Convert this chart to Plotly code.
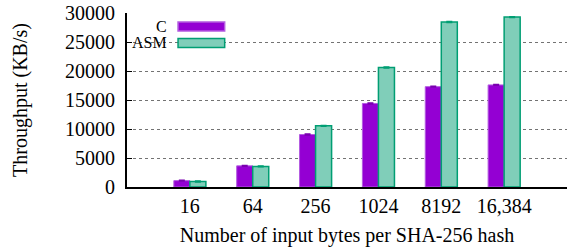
import plotly.graph_objects as go

categories = ["16", "64", "256", "1024", "8192", "16,384"]
c_values = [1100, 3650, 9050, 14400, 17300, 17600]
asm_values = [950, 3550, 10550, 20600, 28450, 29300]
y_ticks = [0, 5000, 10000, 15000, 20000, 25000, 30000]

FONT = "Liberation Serif, Times New Roman, serif"
C_FILL = "#9400D3"
C_LINE = "#B35BE0"
ASM_FILL = "#80CEB9"
ASM_LINE = "#009E73"
FS = 20

fig = go.Figure()
fig.add_trace(go.Bar(
    x=categories, y=c_values, name="C",
    marker=dict(color=C_FILL, line=dict(color=C_LINE, width=1)),
    error_y=dict(type="constant", value=70, color="#7a00b0", thickness=1.5, width=3),
    showlegend=False,
))
fig.add_trace(go.Bar(
    x=categories, y=asm_values, name="ASM",
    marker=dict(color=ASM_FILL, line=dict(color=ASM_LINE, width=1.5)),
    error_y=dict(type="constant", value=70, color=ASM_LINE, thickness=1.5, width=3),
    showlegend=False,
))

# custom legend (text left of swatch, as in the reference)
legend_items = [("C", C_FILL, C_LINE, 0.922), ("ASM", ASM_FILL, ASM_LINE, 0.828)]
shapes = [dict(type="rect", xref="paper", yref="paper", x0=0.0, x1=0.241, y0=0.78, y1=0.97,
               fillcolor="white", line=dict(width=0), layer="below")]
annotations = []
for label, fill, line, yc in legend_items:
    shapes.append(dict(type="rect", xref="paper", yref="paper",
                       x0=0.116, x1=0.222, y0=yc - 0.026, y1=yc + 0.026,
                       fillcolor=fill, line=dict(color=line, width=1.5), layer="above"))
    annotations.append(dict(text=label, xref="paper", yref="paper", x=0.095, y=yc,
                            xanchor="right", yanchor="middle", showarrow=False,
                            font=dict(family=FONT, size=16, color="black")))

fig.update_layout(
    width=567, height=252,
    margin=dict(l=127, r=0, t=13, b=65),
    paper_bgcolor="white", plot_bgcolor="white",
    barmode="group", bargap=0.49, bargroupgap=0.0,
    font=dict(family=FONT, size=FS, color="black"),
    shapes=shapes, annotations=annotations,
    xaxis=dict(
        type="category", range=[-1, 6], automargin=False,
        showline=True, linecolor="black", linewidth=2,
        ticks="", showgrid=False,
        tickfont=dict(family=FONT, size=FS),
        ticklabelstandoff=0,
        title=dict(text="Number of input bytes per SHA-256 hash",
                   font=dict(family=FONT, size=FS), standoff=12),
    ),
    yaxis=dict(
        range=[0, 30000], tickvals=y_ticks, ticktext=[str(v) for v in y_ticks],
        automargin=False,
        showline=True, linecolor="black", linewidth=2,
        ticks="inside", ticklen=5, tickcolor="black",
        ticklabelstandoff=6,
        showgrid=True, gridcolor="rgba(0,0,0,0.55)", griddash="dot", gridwidth=1,
        zeroline=False,
        tickfont=dict(family=FONT, size=FS),
        title=dict(text="Throughput (KB/s)", font=dict(family=FONT, size=FS), standoff=32),
    ),
)

fig.write_html("out.html", post_script="document.body.style.margin='0';",
               config={"displayModeBar": False})
